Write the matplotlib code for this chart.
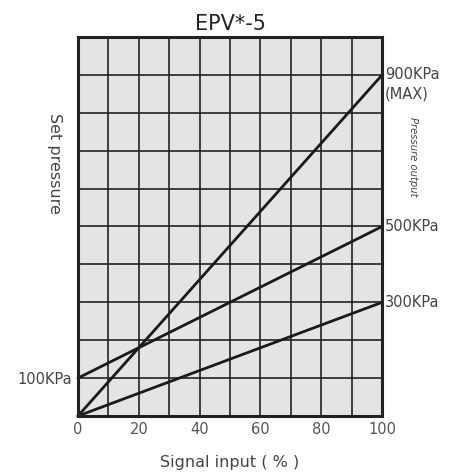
import matplotlib.pyplot as plt
import numpy as np

# signal input (%) and output pressure (KPa) for the three settings
signal = [0, 100]
p_max = [0, 900]
p_500 = [100, 500]
p_300 = [0, 300]

x_ticks = [0, 20, 40, 60, 80, 100]
right_labels = [(900, '900KPa'), (500, '500KPa'), (300, '300KPa')]

fig = plt.figure(figsize=(4.61, 4.75), dpi=100)
ax = fig.add_axes([0.169, 0.1242, 0.660, 0.798])
ax.set_facecolor('#e4e4e4')

ax.set_xlim(0, 100)
ax.set_ylim(0, 1000)
ax.set_xticks(np.arange(0, 101, 10), minor=True)
ax.set_yticks(np.arange(0, 1001, 100), minor=True)

ax.set_xticks(x_ticks)
ax.set_xticklabels([str(t) for t in x_ticks], color='#555555', fontsize=10.5)
ax.tick_params(axis='x', which='both', length=0, pad=4)
ax.set_yticks([100])
ax.set_yticklabels(['100KPa'], color='#444444', fontsize=10.5)
ax.tick_params(axis='y', which='both', length=0, pad=4)

ax.grid(which='both', color='#222222', lw=1.2)
ax.set_axisbelow(True)

for y in (p_max, p_500, p_300):
    ax.plot(signal, y, color='#1a1a1a', lw=2, solid_capstyle='round', clip_on=False)

for s in ax.spines.values():
    s.set_linewidth(2.2)
    s.set_color('#222222')

for val, txt in right_labels:
    ax.text(101, val, txt, fontsize=10.5, color='#444444', va='center', ha='left')
ax.text(101, 850, '(MAX)', fontsize=10.5, color='#444444', va='center', ha='left')

ax.text(110, 685, 'Pressure output', rotation=-90, style='italic', fontsize=7.2,
        color='#444444', ha='center', va='center')
fig.text(0.118, 0.655, 'Set pressure', rotation=-90, fontsize=11.5, color='#444444',
         ha='center', va='center')

ax.set_title('EPV*-5', fontsize=15, color='#222222', pad=5)
fig.text(0.498, 0.027, 'Signal input ( % )', fontsize=11.5, color='#444444',
         ha='center', va='center')

fig.savefig('out.png', dpi=100)
